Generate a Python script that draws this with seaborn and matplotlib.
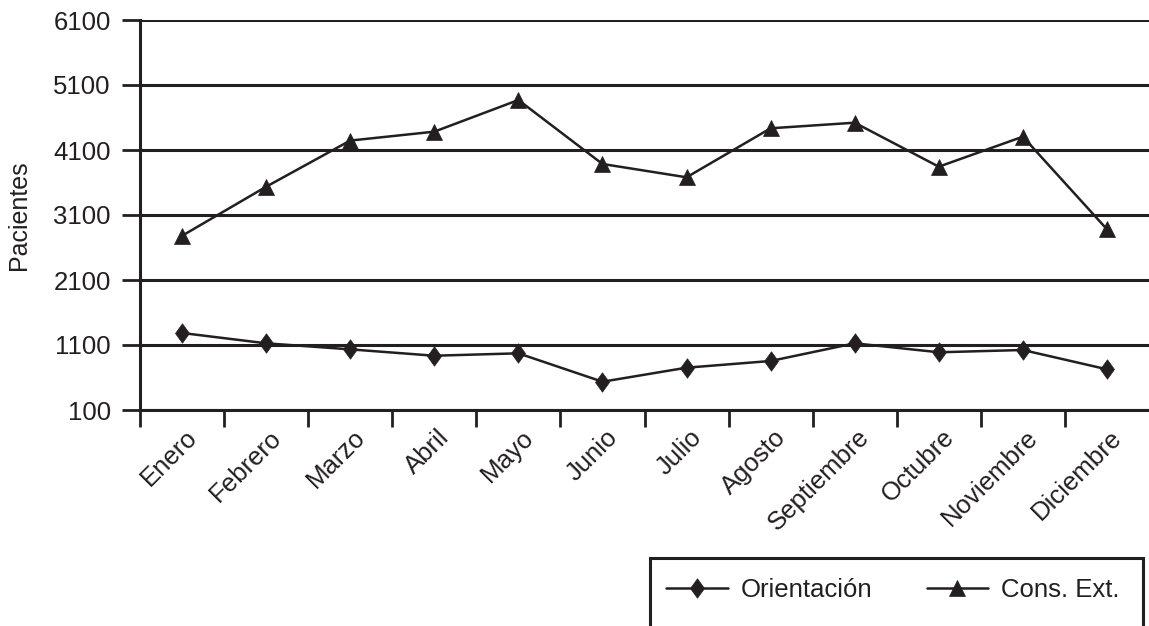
import numpy as np
import pandas as pd
import matplotlib
matplotlib.use("Agg")
import matplotlib.pyplot as plt
import matplotlib.transforms as mtransforms
from matplotlib.patches import Rectangle
import seaborn as sns

months = ["Enero", "Febrero", "Marzo", "Abril", "Mayo", "Junio", "Julio",
          "Agosto", "Septiembre", "Octubre", "Noviembre", "Diciembre"]
orientacion = [1285, 1126, 1033, 935, 972, 535, 751, 854, 1126, 988, 1023, 726]
cons_ext = [2780, 3535, 4245, 4382, 4869, 3885, 3680, 4434, 4520, 3843, 4305, 2880]
y_ticks = [100, 1100, 2100, 3100, 4100, 5100, 6100]

INK = "#231f20"

sns.set_theme(style="white")
plt.rcParams["font.family"] = ["Liberation Sans", "DejaVu Sans"]

fig = plt.figure(figsize=(11.49, 6.26), dpi=100)
ax = fig.add_axes([140/1149, 1-410/626, 1-140/1149, (410-20)/626])

diamond = [(0, 1), (0.72, 0), (0, -1), (-0.72, 0), (0, 1)]

sns.lineplot(x=months, y=orientacion, ax=ax, sort=False, color=INK, lw=1.8,
             marker=diamond, markersize=14, markeredgewidth=0.5,
             markeredgecolor=INK, markerfacecolor=INK, label="Orientación")
sns.lineplot(x=months, y=cons_ext, ax=ax, sort=False, color=INK, lw=1.8,
             marker="^", markersize=12, markeredgewidth=0.5,
             markeredgecolor=INK, markerfacecolor=INK, label="Cons. Ext.")

ax.set_xlim(-0.5, 11.5)
ax.set_ylim(100, 6100)
ax.set_yticks(y_ticks)
ax.set_yticklabels([str(v) for v in y_ticks])
ax.yaxis.grid(True, color=INK, lw=2.2)
ax.xaxis.grid(False)
ax.set_axisbelow(True)

for s in ["top", "right"]:
    ax.spines[s].set_visible(False)
for s in ["left", "bottom"]:
    ax.spines[s].set_color(INK)
    ax.spines[s].set_linewidth(2.2)

ax.tick_params(axis="y", which="major", direction="out", length=13, width=2.0,
               color=INK, labelsize=18.5, labelcolor=INK, pad=8, left=True)
ax.set_xticks(range(len(months)))
ax.set_xticks(np.arange(-0.5, 11.0, 1.0), minor=True)
ax.tick_params(axis="x", which="major", length=0, labelsize=18.5,
               labelcolor=INK, pad=11, bottom=True)
ax.tick_params(axis="x", which="minor", direction="out", length=12, width=2.0,
               color=INK, bottom=True)
ax.set_xticklabels(months, rotation=45, ha="right", rotation_mode="anchor")
offset = mtransforms.ScaledTranslation(2/72, 0, fig.dpi_scale_trans)
for lab in ax.get_xticklabels():
    lab.set_va("top")
    lab.set_transform(lab.get_transform() + offset)

ax.set_xlabel("")
ax.set_ylabel("Pacientes", fontsize=18, color=INK, labelpad=16)

if ax.legend_:
    ax.legend_.remove()
handles, labels = ax.get_legend_handles_labels()
leg = fig.legend(handles, labels, loc="center", ncol=2, frameon=False,
                 bbox_to_anchor=(893/1149, 1-590/626), fontsize=18.5,
                 handlelength=2.4, handletextpad=0.5, columnspacing=2.1,
                 labelcolor=INK)
fig.add_artist(Rectangle((650/1149, -0.1), (1143-650)/1149, (1-558/626)+0.1,
                         transform=fig.transFigure, fill=False, lw=2.2,
                         edgecolor=INK))

fig.savefig("out.png", dpi=100)
